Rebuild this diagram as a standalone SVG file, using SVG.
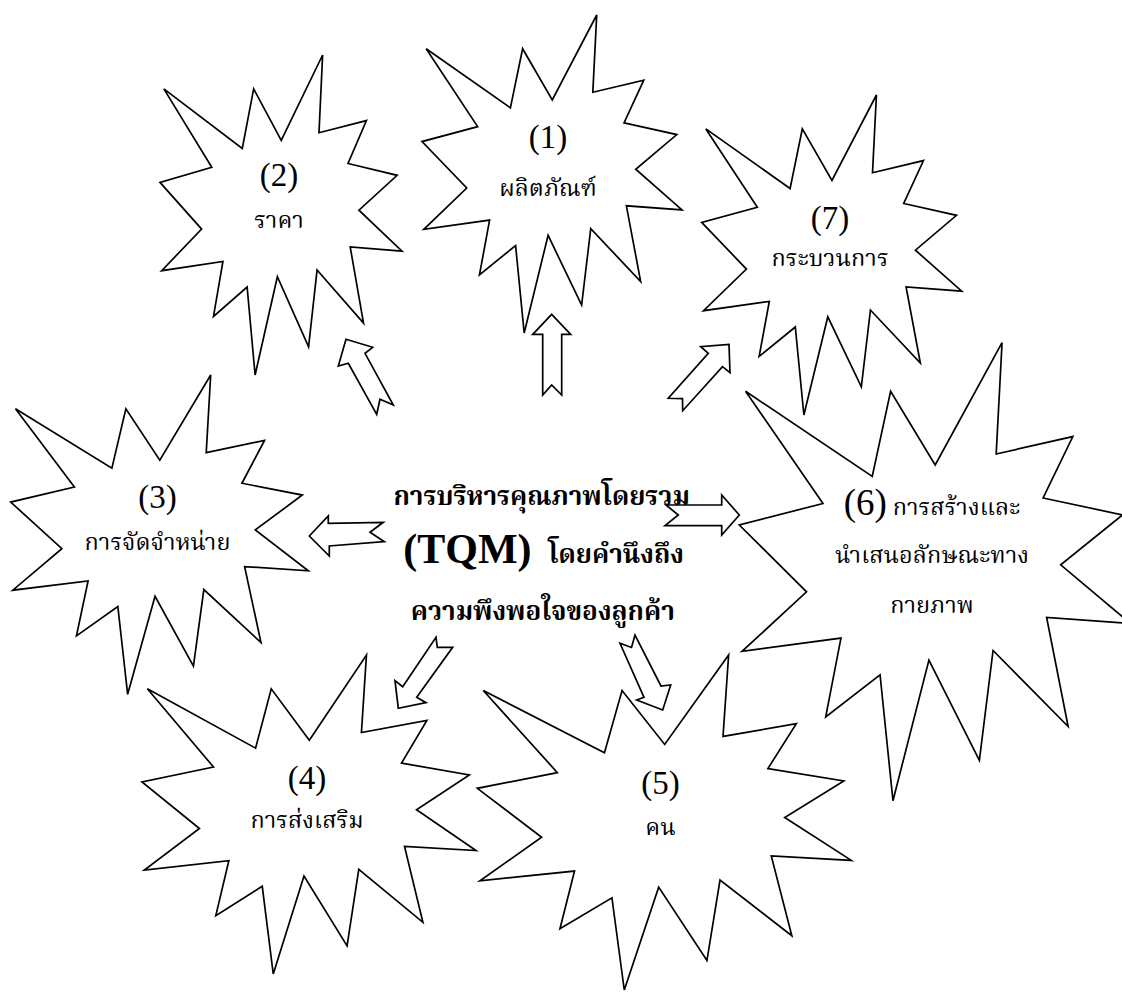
<svg xmlns="http://www.w3.org/2000/svg" xmlns:xlink="http://www.w3.org/1999/xlink" width="1122" height="992" viewBox="0 0 1122 992">
<style>
.star{fill:#fff;stroke:#000;stroke-width:1.7;stroke-linejoin:miter;vector-effect:non-scaling-stroke}
.arr{fill:#fff;stroke:#000;stroke-width:1.7;stroke-linejoin:miter}
.num{font-family:"Liberation Serif","Times New Roman",serif;font-size:33px;fill:#000;text-anchor:middle}
.th{font-family:"Liberation Serif","Noto Serif Thai","Noto Sans Thai",serif;font-size:23.5px;fill:#000;text-anchor:middle}
.ctr{font-family:"Liberation Serif","Noto Serif Thai","Noto Sans Thai",serif;font-size:26px;font-weight:bold;fill:#000}
</style>
<defs>
<polygon id="burst" class="star" points="672,0 657,243 853,205 777,339 980,376 822,485 1000,613 786,600 841,838 649,672 614,912 485,693 393,1000 360,725 221,817 260,645 7,674 172,544 0,398 214,351 16,106 340,292 387,106 501,267"/>
</defs>
<rect width="1122" height="992" fill="#fff"/>
<g id="node1">
<use xlink:href="#burst" transform="translate(422,15) scale(0.260,0.318)"/>
<text class="num" x="548" y="148">(1)</text>
<text class="th" x="548" y="196">ผลิตภัณฑ์</text>
</g>
<g id="node2">
<use xlink:href="#burst" transform="translate(160,55) scale(0.242,0.320)"/>
<text class="num" x="279" y="186">(2)</text>
<text class="th" x="279" y="228">ราคา</text>
</g>
<g id="node7">
<use xlink:href="#burst" transform="translate(701.7,95) scale(0.260,0.320)"/>
<text class="num" x="830" y="229">(7)</text>
<text class="th" x="830" y="266">กระบวนการ</text>
</g>
<g id="node3">
<use xlink:href="#burst" transform="translate(10.7,375) scale(0.2976,0.3193)"/>
<text class="num" x="157.5" y="508">(3)</text>
<text class="th" x="157.5" y="550">การจัดจำหน่าย</text>
</g>
<g id="node6">
<use xlink:href="#burst" transform="translate(739.3,342.7) scale(0.391,0.458)"/>
<text class="th" x="932" y="515"><tspan class="num" style="font-size:37px">(6)</tspan> การสร้างและ</text>
<text class="th" x="932" y="563">นำเสนอลักษณะทาง</text>
<text class="th" x="932" y="613">กายภาพ</text>
</g>
<g id="node4">
<use xlink:href="#burst" transform="translate(142,655) scale(0.334,0.319)"/>
<text class="num" x="307" y="789">(4)</text>
<text class="th" x="307" y="828">การส่งเสริม</text>
</g>
<g id="node5">
<use xlink:href="#burst" transform="translate(477.3,655) scale(0.374,0.335)"/>
<text class="num" x="660.5" y="794">(5)</text>
<text class="th" x="660.5" y="835">คน</text>
</g>
<g id="connectors">
<polygon class="arr" points="346,339.3 372.7,347.3 365,353.3 393.3,405 380,399.3 376.7,414.3 348.3,363.3 338.3,366"/>
<polygon class="arr" points="551.7,314.3 570.7,334.3 561.7,334.3 561.7,395 551.7,385 542.7,395 542.7,334.3 532.7,334.3"/>
<polygon class="arr" points="729,344.3 730,372.7 722.5,366.7 682.7,410.7 682.5,398.6 668.3,398.3 708.3,353.3 700.7,346.7"/>
<polygon class="arr" points="309.3,536 328.3,516 328.3,523.3 383.3,522.3 370,532.3 384.3,541.7 329.3,546 329.3,556"/>
<polygon class="arr" points="739.3,515 721.7,495 721.7,505 666,505 678.3,515 665,525.7 721.7,525.7 721.7,535"/>
<polygon class="arr" points="398.3,708.3 395,680.7 402.7,686.7 436,637.3 437.3,647.3 452.7,647.3 416.7,697.3 426,702.7"/>
<polygon class="arr" points="662.7,710 636.7,700 644,697.3 620,643.3 631.5,647.5 635,635 661,686 670.7,685"/>
</g>
<g id="center">
<text class="ctr" x="541.7" y="505" text-anchor="middle">การบริหารคุณภาพโดยรวม</text>
<text class="ctr" y="563"><tspan x="403.3" style="font-size:42px;font-family:'Liberation Serif',serif">(TQM)</tspan><tspan x="548.3">โดยคำนึงถึง</tspan></text>
<text class="ctr" x="542.8" y="620" text-anchor="middle">ความพึงพอใจของลูกค้า</text>
</g>
</svg>
